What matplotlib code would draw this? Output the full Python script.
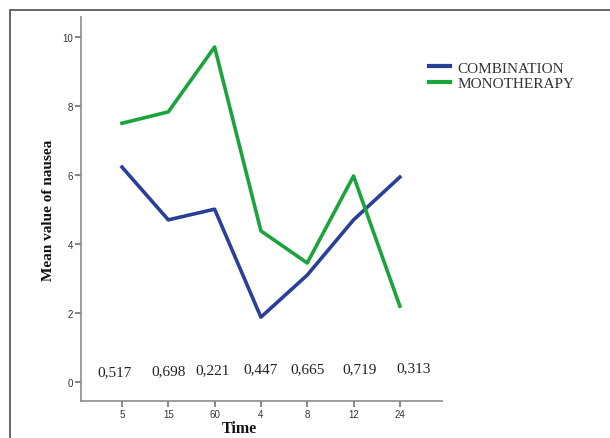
import matplotlib.pyplot as plt
from matplotlib.patches import Rectangle

# data
times = ["5", "15", "60", "4", "8", "12", "24"]
combination = [6.23, 4.70, 5.01, 1.88, 3.10, 4.70, 5.94]
monotherapy = [7.50, 7.83, 9.71, 4.38, 3.45, 5.97, 2.20]
p_values = ["0,517", "0,698", "0,221", "0,447", "0,665", "0,719", "0,313"]

# small layout nudges for the p-value labels (category units / data units)
p_dx = [-0.15, 0.01, -0.04, 0.0, 0.0, 0.13, 0.30]
p_y = [0.29, 0.33, 0.35, 0.38, 0.38, 0.38, 0.42]

blue = "#2a3f98"
green = "#1ba33c"
serif = ["Liberation Serif", "DejaVu Serif"]
sans = ["Liberation Sans", "DejaVu Sans"]

fig = plt.figure(figsize=(6.1, 4.39), dpi=100, facecolor="white")

# outer frame of the original figure
fig.patches.append(
    Rectangle((10 / 610, -0.1), 1.2, 1 - 11 / 439 + 0.1, transform=fig.transFigure,
              fill=False, edgecolor="#5a5a5a", linewidth=1.3)
)

ax = fig.add_axes([81 / 610, 37 / 439, (442 - 81) / 610, (402 - 18) / 439])

x = list(range(len(times)))
ax.plot(x, combination, color=blue, linewidth=2.6, label="COMBINATION")
ax.plot(x, monotherapy, color=green, linewidth=2.6, label="MONOTHERAPY")

for i, p in enumerate(p_values):
    ax.text(i + p_dx[i], p_y[i], p, ha="center", va="center",
            fontsize=11, family=serif, color="#222222")

ax.set_xlim(-0.885, 6.91)
ax.set_ylim(-0.55, 10.58)
ax.set_xticks(x)
ax.set_xticklabels(times)
ax.set_yticks([0, 2, 4, 6, 8, 10])

for side in ["top", "right"]:
    ax.spines[side].set_visible(False)
for side in ["left", "bottom"]:
    ax.spines[side].set_color("#8c8c8c")
    ax.spines[side].set_linewidth(1.2)

ax.tick_params(direction="out", length=4, width=1.1, color="#666666",
               labelsize=7, labelcolor="#333333", pad=1.5)
for lab in ax.get_xticklabels() + ax.get_yticklabels():
    lab.set_family(sans)

ax.set_ylabel("Mean value of nausea", fontsize=11, fontweight="bold",
              family=serif, color="#111111")
ax.yaxis.set_label_coords(-0.072, 0.5)
ax.set_xlabel("Time", fontsize=11.5, fontweight="bold", family=serif,
              color="#111111", va="center")
ax.xaxis.set_label_coords(0.44, -0.07)

leg = fig.legend(loc="upper left", bbox_to_anchor=(429 / 610, 1 - 62 / 439),
                 frameon=False, borderpad=0, borderaxespad=0,
                 handlelength=1.4, handletextpad=0.45, labelspacing=0.12,
                 prop={"family": serif, "size": 11})
for t in leg.get_texts():
    t.set_color("#333333")
for h in leg.get_lines():
    h.set_linewidth(3)

fig.savefig("out.png", dpi=100, facecolor="white")
